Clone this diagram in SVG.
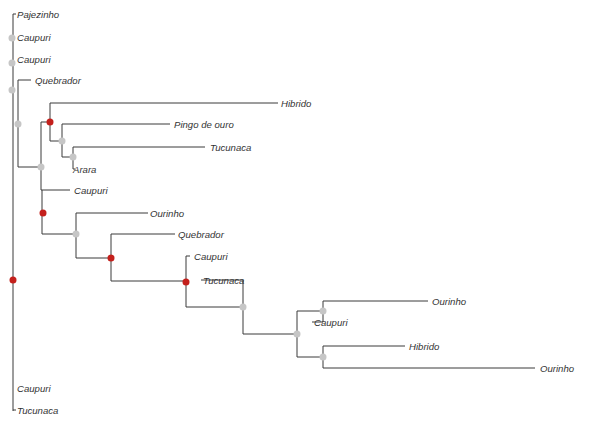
<svg xmlns="http://www.w3.org/2000/svg" width="589" height="421" viewBox="0 0 589 421">
<style>
.e{fill:none;stroke:#3a3a3a;stroke-width:1}
.t{font-family:"Liberation Sans",Arial,sans-serif;font-style:italic;font-size:9.6px;fill:#333}
.g{fill:#c6c6c6}
.r{fill:#c4201c}
</style>
<rect width="589" height="421" fill="#fff"/>
<g id="connectors">
<path class="e" d="M13,14V411 M13,14H16 M13,410H16"/>
<path class="e" d="M31,80H18V167H41"/>
<path class="e" d="M41,122V190H70 M41,122H50"/>
<path class="e" d="M278,103H50V141H62"/>
<path class="e" d="M170,124H62V157H73"/>
<path class="e" d="M205,147H73V169H75"/>
<path class="e" d="M42,190V234H76"/>
<path class="e" d="M148,213H76V258H111"/>
<path class="e" d="M175,234H111V281H186"/>
<path class="e" d="M190,256H186V307H243"/>
<path class="e" d="M201,280H243V334H297"/>
<path class="e" d="M297,311V357H323 M297,311H323"/>
<path class="e" d="M428,301H323V322H312"/>
<path class="e" d="M405,346H323V368H535"/>
</g>
<g id="dots">
<circle class="g" cx="12" cy="38" r="3.5"/>
<circle class="g" cx="12" cy="63" r="3.5"/>
<circle class="g" cx="12" cy="90" r="3.5"/>
<circle class="g" cx="18" cy="124" r="3.5"/>
<circle class="r" cx="50" cy="122" r="3.5"/>
<circle class="g" cx="62" cy="141" r="3.5"/>
<circle class="g" cx="73" cy="157" r="3.5"/>
<circle class="g" cx="41" cy="167" r="3.5"/>
<circle class="r" cx="43" cy="213" r="3.5"/>
<circle class="g" cx="76" cy="234" r="3.5"/>
<circle class="r" cx="111" cy="258" r="3.5"/>
<circle class="r" cx="186" cy="282" r="3.5"/>
<circle class="r" cx="13" cy="280" r="3.5"/>
<circle class="g" cx="243" cy="307" r="3.5"/>
<circle class="g" cx="297" cy="334" r="3.5"/>
<circle class="g" cx="323" cy="311" r="3.5"/>
<circle class="g" cx="323" cy="357" r="3.5"/>
</g>
<g id="labels">
<g id="n-pajezinho"><text class="t" x="17" y="17.5">Pajezinho</text></g>
<g id="n-caupuri1"><text class="t" x="17" y="40.5">Caupuri</text></g>
<g id="n-caupuri2"><text class="t" x="17" y="62.5">Caupuri</text></g>
<g id="n-quebrador1"><text class="t" x="35" y="83.5">Quebrador</text></g>
<g id="n-hibrido1"><text class="t" x="281" y="106.5">Hibrido</text></g>
<g id="n-pingo"><text class="t" x="174" y="127.5">Pingo de ouro</text></g>
<g id="n-tucunaca1"><text class="t" x="210" y="150.5">Tucunaca</text></g>
<g id="n-arara"><text class="t" x="73" y="172.5">Arara</text></g>
<g id="n-caupuri3"><text class="t" x="74" y="193.5">Caupuri</text></g>
<g id="n-ourinho1"><text class="t" x="150" y="216.5">Ourinho</text></g>
<g id="n-quebrador2"><text class="t" x="178" y="237.5">Quebrador</text></g>
<g id="n-caupuri4"><text class="t" x="194" y="259.5">Caupuri</text></g>
<g id="n-tucunaca2"><text class="t" x="203" y="283.5">Tucunaca</text></g>
<g id="n-ourinho2"><text class="t" x="432" y="304.5">Ourinho</text></g>
<g id="n-caupuri5"><text class="t" x="314" y="325.5">Caupuri</text></g>
<g id="n-hibrido2"><text class="t" x="409" y="349.5">Hibrido</text></g>
<g id="n-ourinho3"><text class="t" x="540" y="371.5">Ourinho</text></g>
<g id="n-caupuri6"><text class="t" x="17" y="391.5">Caupuri</text></g>
<g id="n-tucunaca3"><text class="t" x="17" y="413.5">Tucunaca</text></g>
</g>
</svg>
